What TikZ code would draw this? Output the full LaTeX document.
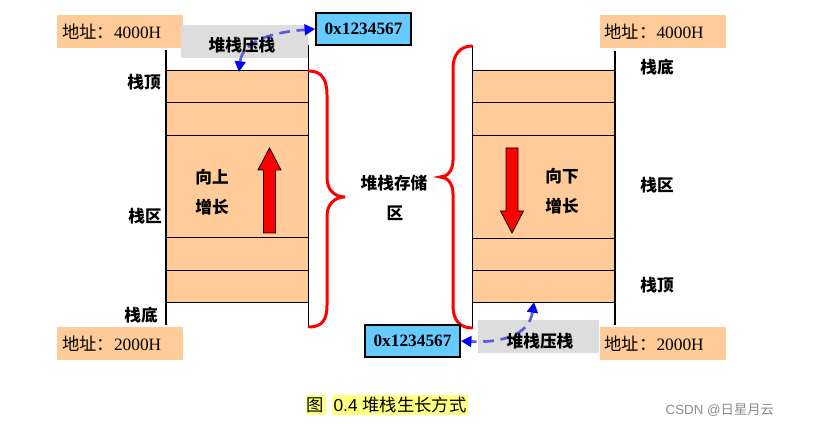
\documentclass[tikz,border=0pt]{standalone}
\usepackage{fontspec}
\setmainfont{Liberation Serif}
\setsansfont{Liberation Sans}
\newfontfamily\cjk{Noto Sans CJK SC}
\usetikzlibrary{arrows.meta}
\definecolor{peach}{HTML}{FFCC99}
\definecolor{hexblue}{HTML}{66CCFF}
\definecolor{boxgray}{HTML}{DDDDDD}
\definecolor{hl}{HTML}{FFFF80}
\definecolor{dashblue}{HTML}{5A5AE6}
\begin{document}
\begin{tikzpicture}[x=0.75pt,y=-0.75pt,
  addr/.style={fill=peach, text width=87pt, align=left, inner xsep=3.75pt, inner ysep=0pt,
    minimum height=24.75pt, font=\fontsize{13}{15}\selectfont},
  hexbox/.style={draw=black, line width=1.1pt, fill=hexblue, minimum width=71.25pt,
    minimum height=24pt, inner sep=0pt, font=\bfseries\fontsize{13}{15}\selectfont},
  pushbox/.style={fill=boxgray, minimum height=24.75pt, inner sep=0pt},
  lbl/.style={font=\cjk\bfseries\fontsize{12.5}{14}\selectfont, inner sep=1pt},
  wall/.style={line width=0.9pt, black},
  row/.style={line width=0.75pt, black},
  brace/.style={red, line width=2.25pt, line cap=round},
  bigarrow/.style={fill=red, draw=black, line width=0.6pt, line join=miter},
  conn/.style={dashblue, line width=2pt, dash pattern=on 8pt off 5pt,
    {Triangle[length=8pt,width=8pt,color=blue]}-{Triangle[length=8pt,width=8pt,color=blue]}},
  captext/.style={fill=hl, inner xsep=1pt, inner ysep=1.5pt, font=\fontsize{13}{15}\selectfont}
]
\useasboundingbox (0,0) rectangle (814,427);
\fill[white] (0,0) rectangle (814,427);

% ---------- left stack ----------
\fill[peach] (166,71) rectangle (309,303);
\foreach \yy in {71,103,136,238,271,303} \draw[row] (166,\yy) -- (309,\yy);
\draw[wall] (166,50) -- (166,325);
\draw[wall] (308.5,45) -- (308.5,327);
\draw[bigarrow] (263.5,233) -- (275.5,233) -- (275.5,170) -- (281,170) -- (269.5,148)
  -- (258,170) -- (263.5,170) -- cycle;

% ---------- right stack ----------
\fill[peach] (472,71) rectangle (615,303);
\foreach \yy in {71,103,136,239,271,303} \draw[row] (472,\yy) -- (615,\yy);
\draw[wall] (472.5,46) -- (472.5,328);
\draw[wall] (615,51) -- (615,325);
\draw[bigarrow] (506,148) -- (518,148) -- (518,211) -- (523.5,211) -- (512,233)
  -- (500.5,211) -- (506,211) -- cycle;

% ---------- braces ----------
\draw[brace] (309,71) .. controls (322,71) and (327,80) .. (327,95) -- (327,178)
  .. controls (327,190) and (335,197) .. (345,197)
  .. controls (335,197) and (327,204) .. (327,216) -- (327,305)
  .. controls (327,320) and (322,327) .. (309,327);
\draw[brace] (472,46) .. controls (460,46) and (453,55) .. (453,68) -- (453,160)
  .. controls (453,171) and (447,177) .. (440,177)
  .. controls (447,177) and (453,183) .. (453,194) -- (453,306)
  .. controls (453,320) and (460,328) .. (472,328);

% ---------- address boxes ----------
\node[addr] (a1) at (120,31.5) {{\cjk 地址：}4000H};
\node[addr] (a2) at (662.5,31.5) {{\cjk 地址：}4000H};
\node[addr] (a3) at (120,343.5) {{\cjk 地址：}2000H};
\node[addr] (a4) at (662.5,343.5) {{\cjk 地址：}2000H};

% ---------- push boxes ----------
\node[pushbox, minimum width=95.25pt] (p1) at (244.5,41.5) {};
\node[pushbox, minimum width=90.75pt] (p2) at (538.5,336.5) {};
\node[hexbox] (h1) at (363.5,29) {0x1234567};
\node[hexbox] (h2) at (412.5,341) {0x1234567};

% ---------- connectors ----------
\coordinate (ltop) at (239,72);
\coordinate (rtop) at (534,302);
\draw[conn] (ltop) .. controls (242,45) and (262,33) .. (h1.west);
\draw[conn] (rtop) .. controls (529,336) and (500,343) .. (h2.east);
\node[lbl] (t1) at (242,45) {堆栈压栈};
\node[lbl] (t2) at (540,341) {堆栈压栈};

% ---------- labels ----------
\node[lbl] (l1) at (144,82) {栈顶};
\node[lbl] (l2) at (145,216) {栈区};
\node[lbl] (l3) at (141,315) {栈底};
\node[lbl] (r1) at (657,67) {栈底};
\node[lbl] (r2) at (657,185) {栈区};
\node[lbl] (r3) at (657,285) {栈顶};
\node[lbl] (m1) at (394,183) {堆栈存储};
\node[lbl] (m2) at (395,213) {区};
\node[lbl] (u1) at (212,177) {向上};
\node[lbl] (u2) at (212,207) {增长};
\node[lbl] (d1) at (562,176) {向下};
\node[lbl] (d2) at (562,206) {增长};

% ---------- caption ----------
\node[captext] (c1) at (315.5,405) {\cjk 图};
\node[captext, anchor=west] (c2) at (332,405) {\sffamily 0.4 {\cjk 堆栈生长方式}};
\node[text=black!45, font=\sffamily\fontsize{10}{12}\selectfont, anchor=west] (wm) at (661,410) {CSDN @{\cjk 日星月云}};
\end{tikzpicture}
\end{document}
